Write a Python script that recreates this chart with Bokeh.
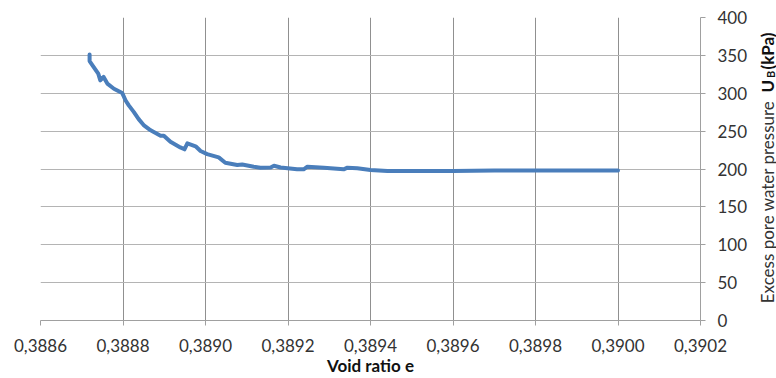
from bokeh.plotting import figure
from bokeh.models import Range1d, FixedTicker, Label
from bokeh.layouts import row
from bokeh.embed import file_html
from bokeh.resources import INLINE
import math

# ---- data ----
void_ratio = [0.388719, 0.388719, 0.388729, 0.388740, 0.388745, 0.388753, 0.388762,
              0.388778, 0.388798, 0.388806, 0.388814, 0.388826, 0.388838, 0.388850,
              0.388867, 0.388891, 0.388899, 0.388915, 0.388939, 0.388949, 0.388956,
              0.388976, 0.388988, 0.389004, 0.389032, 0.389048, 0.389077, 0.389089,
              0.389117, 0.389133, 0.389158, 0.389166, 0.389182, 0.389222, 0.389238,
              0.389247, 0.389287, 0.389335, 0.389344, 0.389368, 0.389400, 0.389441,
              0.389545, 0.389600, 0.389700, 0.389800, 0.389900, 0.390000]
pressure = [351, 342.5, 334.6, 326, 317, 321.5, 312.8,
            306, 300.4, 290.8, 284, 275.4, 265.8, 258,
            251, 243.8, 244, 236, 228.5, 226, 233.8,
            230, 223.7, 219.7, 215.4, 208.3, 205.3, 206,
            203, 201.7, 202, 204.3, 202, 199.6, 199.6,
            203, 201.7, 199.6, 201.7, 200.9, 198.7, 197.4,
            197.4, 197.5, 198, 198, 198, 198]

x_ticks = [0.3886, 0.3888, 0.3890, 0.3892, 0.3894, 0.3896, 0.3898, 0.3900, 0.3902]
x_tick_labels = ["0,3886", "0,3888", "0,3890", "0,3892", "0,3894", "0,3896", "0,3898", "0,3900", "0,3902"]
y_ticks = [0, 50, 100, 150, 200, 250, 300, 350, 400]

x_title = "Void ratio e"
y_title_plain = "Excess pore water pressure"
y_title_bold = "U"
y_title_sub = "B"
y_title_unit = "(kPa)"

X_MIN, X_MAX = 0.3886, 0.3902
Y_MIN, Y_MAX = 0, 400

FONT = "Lato"
TXT = "#333333"
DARK = "#111111"

W1, W2, H = 750, 26, 378
FL, FR, FT, FB = 40, 700, 17, 321

p = figure(width=W1, height=H, output_backend="svg", toolbar_location=None,
           x_range=Range1d(X_MIN, X_MAX), y_range=Range1d(Y_MIN, Y_MAX),
           y_axis_location="right",
           min_border_left=FL, min_border_right=W1 - FR, min_border_top=FT, min_border_bottom=H - FB)
p.outline_line_color = None
p.background_fill_color = "white"
p.border_fill_color = "white"
p.frame_align = False

# x axis
xa = p.xaxis[0]
xa.ticker = FixedTicker(ticks=x_ticks)
xa.major_label_overrides = {t: l for t, l in zip(x_ticks, x_tick_labels)}
xa.axis_line_color = "#A0A0A0"
xa.major_tick_line_color = "#A0A0A0"
xa.major_tick_out = 5
xa.major_tick_in = 0
xa.minor_tick_line_color = None
xa.major_label_text_font = FONT
xa.major_label_text_font_size = "17px"
xa.major_label_text_color = TXT
xa.major_label_standoff = 13
xa.axis_label = x_title
xa.axis_label_text_font = FONT
xa.axis_label_text_font_size = "17px"
xa.axis_label_text_font_style = "bold"
xa.axis_label_text_color = DARK
xa.axis_label_standoff = 0

# y axis (right)
ya = p.yaxis[0]
ya.ticker = FixedTicker(ticks=y_ticks)
ya.axis_line_color = "#A0A0A0"
ya.major_tick_line_color = "#A0A0A0"
ya.major_tick_out = 5
ya.major_tick_in = 0
ya.minor_tick_line_color = None
ya.major_label_text_font = FONT
ya.major_label_text_font_size = "17px"
ya.major_label_text_color = TXT
ya.major_label_standoff = 12

# grids
p.xgrid.ticker = FixedTicker(ticks=x_ticks)
p.xgrid.grid_line_color = "#909090"
p.xgrid.grid_line_width = 1
p.ygrid.ticker = FixedTicker(ticks=y_ticks)
p.ygrid.grid_line_color = "#B4B4B4"
p.ygrid.grid_line_width = 1

# series
p.line(void_ratio, pressure, line_color="#4A7EBB", line_width=4,
       line_join="round", line_cap="round")

# narrow panel on the right for the rotated y-axis title (pixel coords, y up)
q = figure(width=W2, height=H, output_backend="svg", toolbar_location=None,
           x_range=Range1d(0, W2), y_range=Range1d(0, H),
           x_axis_location=None, y_axis_location=None,
           min_border_left=0, min_border_right=0, min_border_top=0, min_border_bottom=0)
q.grid.visible = False
q.outline_line_color = None
q.border_fill_color = "white"
q.background_fill_color = "white"
q.frame_align = False

def qx(page_x):
    return page_x - W1

def qy(page_y):
    return H - page_y

ang = math.pi / 2
q.add_layout(Label(x=qx(767), y=qy(100), angle=ang, text=y_title_plain, text_font=FONT,
                   text_font_size="17px", text_color=TXT,
                   text_align="right", text_baseline="middle"))
q.add_layout(Label(x=qx(767), y=qy(92), angle=ang, text=y_title_bold, text_font=FONT,
                   text_font_size="17px", text_font_style="bold", text_color=DARK,
                   text_align="left", text_baseline="middle"))
q.add_layout(Label(x=qx(769.5), y=qy(77.5), angle=ang, text=y_title_sub, text_font=FONT,
                   text_font_size="11px", text_font_style="bold", text_color=DARK,
                   text_align="left", text_baseline="middle"))
q.add_layout(Label(x=qx(767), y=qy(69), angle=ang, text=y_title_unit, text_font=FONT,
                   text_font_size="17px", text_font_style="bold", text_color=DARK,
                   text_align="left", text_baseline="middle"))

open("out.html", "w").write(file_html(row(p, q), INLINE))
